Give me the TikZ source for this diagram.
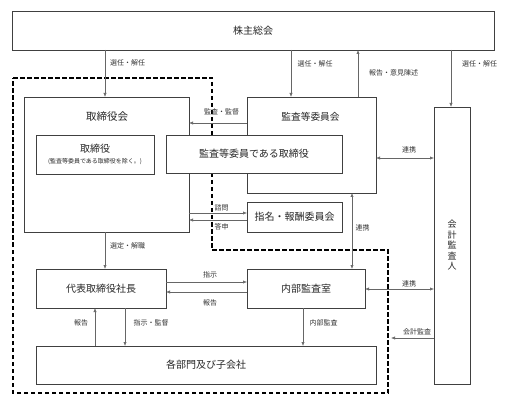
\documentclass[tikz,border=0pt]{standalone}
\usepackage{fontspec}
\setmainfont{Noto Sans CJK JP}
\usetikzlibrary{arrows.meta}
\begin{document}
\begin{tikzpicture}[x=1pt,y=-1pt,
  box/.style={draw=black!75, line width=0.8pt, fill=white, inner sep=0pt, outer sep=0pt, text=black!85, align=center},
  big/.style={font=\fontsize{10}{12}\selectfont},
  arr/.style={draw=black!60, line width=0.6pt, -{Latex[length=4pt,width=3.2pt]}},
  darr/.style={draw=black!60, line width=0.6pt, {Latex[length=4pt,width=3.2pt]}-{Latex[length=4pt,width=3.2pt]}},
  lab/.style={font=\fontsize{7}{8}\selectfont, text=black!80, inner sep=0pt},
  region/.style={draw=black, line width=1.3pt, dash pattern=on 4.5pt off 2.5pt}
]
\useasboundingbox (0,0) rectangle (518,411);

% dashed region
\draw[region] (13,78) -- (212,78) -- (212,250) -- (388,250) -- (388,393) -- (13,393) -- cycle;

% boxes
\node[box, big, minimum width=482pt, minimum height=39pt] (sh) at (253,30.5) {株主総会};
\node[box, minimum width=165pt, minimum height=135pt] (bd) at (106.5,164.5) {};
\node[big, text=black!85, inner sep=0pt, font=\fontsize{10.5}{12}\selectfont] (bdt) at (107,117) {取締役会};
\node[box, minimum width=118pt, minimum height=39pt] (dir) at (95,154.5)
  {{\fontsize{10}{11}\selectfont 取締役}\\[-1pt]{\fontsize{6}{7}\selectfont (監査等委員である取締役を除く。)}};
\node[box, minimum width=129pt, minimum height=96pt] (ac) at (311.5,145) {};
\node[text=black!85, inner sep=0pt, font=\fontsize{9.7}{12}\selectfont] (act) at (310.5,117) {監査等委員会};
\node[box, big, minimum width=95pt, minimum height=30pt] (nom) at (294.5,217) {指名・報酬委員会};
\node[box, big, minimum width=176pt, minimum height=38pt] (acd) at (254,154) {監査等委員である取締役};
\node[box, minimum width=36pt, minimum height=277pt, font=\fontsize{9}{10.5}\selectfont] (aud) at (452,245.5) {会\\計\\監\\査\\人};
\node[box, big, minimum width=130pt, minimum height=39pt] (pres) at (101,288.5) {代表取締役社長};
\node[box, big, minimum width=118pt, minimum height=39pt] (ia) at (306,288.5) {内部監査室};
\node[box, big, minimum width=340pt, minimum height=38pt] (dept) at (206,365) {各部門及び子会社};

% guide coordinates
\coordinate (xa) at (105,0);
\coordinate (xb) at (291,0);
\coordinate (xc) at (358,0);
\coordinate (xd) at (451,0);
\coordinate (xe) at (352,0);
\coordinate (xf) at (95,0);
\coordinate (xg) at (125,0);
\coordinate (xh) at (303,0);
\coordinate (ya) at (0,123);
\coordinate (yb) at (0,158);
\coordinate (yc) at (0,213);
\coordinate (yd) at (0,220);
\coordinate (ye) at (0,282);
\coordinate (yf) at (0,292);
\coordinate (yg) at (0,289);
\coordinate (yh) at (0,338);
\coordinate (ca) at (391,338);

% connectors
\draw[arr] (xa |- sh.south) -- (xa |- bd.north);
\draw[arr] (xb |- sh.south) -- (xb |- ac.north);
\draw[arr] (xc |- ac.north) -- (xc |- sh.south);
\draw[arr] (xd |- sh.south) -- (xd |- aud.north);
\draw[arr] (ac.west |- ya) -- (bd.east |- ya);
\draw[darr] (ac.east |- yb) -- (aud.west |- yb);
\draw[arr] (bd.east |- yc) -- (nom.west |- yc);
\draw[arr] (nom.west |- yd) -- (bd.east |- yd);
\draw[darr] (xe |- ac.south) -- (xe |- ia.north);
\draw[arr] (xa |- bd.south) -- (xa |- pres.north);
\draw[arr] (pres.east |- ye) -- (ia.west |- ye);
\draw[arr] (ia.west |- yf) -- (pres.east |- yf);
\draw[darr] (ia.east |- yg) -- (aud.west |- yg);
\draw[arr] (aud.west |- yh) -- (ca);
\draw[arr] (xf |- dept.north) -- (xf |- pres.south);
\draw[arr] (xg |- pres.south) -- (xg |- dept.north);
\draw[arr] (xh |- ia.south) -- (xh |- dept.north);

% labels
\node[lab] (l1) at (127.5,63) {選任・解任};
\node[lab] (l2) at (315,64) {選任・解任};
\node[lab] (l3) at (393.5,73) {報告・意見陳述};
\node[lab] (l4) at (479.5,64) {選任・解任};
\node[lab] (l5) at (221.5,112) {監査・監督};
\node[lab] (l6) at (409,150) {連携};
\node[lab] (l7) at (221.5,208) {諮問};
\node[lab] (l8) at (221.5,227) {答申};
\node[lab] (l9) at (362.5,228) {連携};
\node[lab] (l10) at (127.5,246) {選定・解職};
\node[lab] (l11) at (210,275) {指示};
\node[lab] (l12) at (210,303) {報告};
\node[lab] (l13) at (409,284) {連携};
\node[lab] (l14) at (417,332) {会計監査};
\node[lab] (l15) at (81,323) {報告};
\node[lab] (l16) at (151,323) {指示・監督};
\node[lab] (l17) at (323.5,323) {内部監査};
\end{tikzpicture}
\end{document}
